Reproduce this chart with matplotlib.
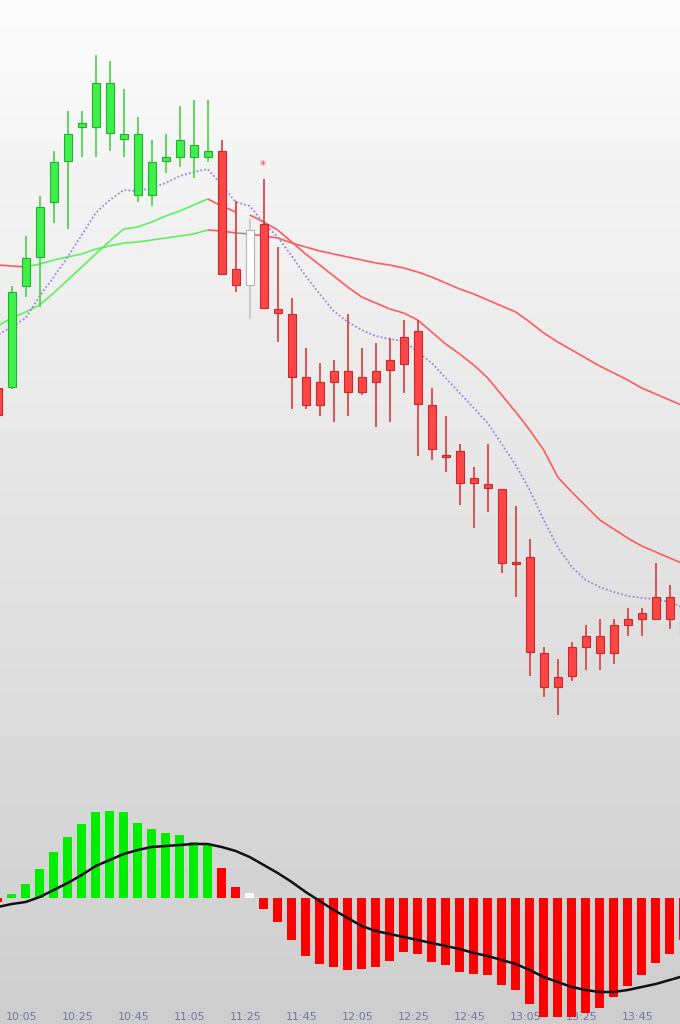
import numpy as np
import matplotlib
matplotlib.use("Agg")
import matplotlib.pyplot as plt
from matplotlib.collections import LineCollection
from matplotlib.transforms import blended_transform_factory

# candle data (price levels), one entry per bar
opens = [612, 613, 714, 743, 798, 839, 873, 873, 867, 861, 805, 805, 839, 843, 843, 843,
         849, 731, 770, 776, 691, 686, 623, 618, 629, 629, 623, 629, 640, 663, 669, 595,
         545, 549, 522, 516, 511, 438, 443, 347, 323, 324, 353, 364, 347, 375, 381, 381,
         403, 381]
highs = [615, 714, 764, 804, 849, 889, 889, 945, 939, 911, 883, 860, 866, 894, 900, 900,
         860, 799, 781, 821, 753, 702, 652, 637, 640, 686, 652, 657, 662, 680, 680, 612,
         584, 556, 533, 556, 511, 494, 461, 353, 341, 358, 375, 381, 381, 392, 392, 437,
         415, 385]
lows = [582, 611, 703, 693, 777, 771, 843, 843, 849, 843, 798, 794, 827, 833, 822, 838,
        725, 708, 681, 691, 658, 591, 591, 584, 578, 584, 605, 573, 578, 607, 544, 540,
        528, 495, 472, 488, 427, 403, 324, 303, 285, 319, 330, 330, 336, 364, 364, 381,
        371, 362]
closes = [585, 708, 742, 793, 838, 866, 877, 917, 917, 866, 866, 838, 843, 860, 855, 849,
          726, 715, 715, 692, 687, 623, 595, 595, 618, 608, 608, 618, 630, 636, 596, 551,
          543, 517, 517, 512, 437, 436, 348, 313, 313, 353, 364, 347, 375, 381, 387, 403,
          381, 365]
# trend state per bar: g = up, r = down, w = neutral
bar_state = "r" + "g" * 15 + "rr" + "w" + "r" * 31

ma_fast = [665, 673, 682, 704, 723, 743, 765, 787, 800, 810, 809, 812, 817, 824, 828, 831,
           815, 798, 794, 777, 763, 744, 724, 706, 689, 678, 670, 664, 661, 659, 648, 637,
           622, 607, 592, 577, 556, 535, 510, 480, 453, 433, 420, 413, 408, 404, 402, 401,
           398, 392]
ma_mid = [674, 682, 688, 695, 707, 720, 733, 746, 759, 771, 773, 778, 784, 789, 795, 801,
          794, 788, 785, 778, 770, 758, 746, 735, 724, 713, 703, 697, 691, 687, 680, 668,
          656, 646, 635, 622, 605, 588, 570, 550, 523, 508, 494, 480, 471, 462, 454, 448,
          442, 436]
ma_slow = [735, 734, 733, 736, 740, 743, 746, 751, 754, 757, 758, 760, 762, 764, 766, 770,
           769, 767, 766, 764, 762, 757, 753, 749, 746, 743, 740, 737, 735, 732, 728, 723,
           717, 711, 706, 700, 694, 688, 678, 667, 658, 650, 642, 634, 627, 620, 612, 606,
           600, 594]
mid_state = "g" * 16 + "rr" + "w" + "r" * 31
slow_state = "rrr" + "g" * 13 + "rr" + "w" + "r" * 31

macd_hist = [-0.4, 0.4, 1.4, 2.9, 4.6, 6.1, 7.4, 8.6, 8.7, 8.6, 7.5, 6.9, 6.5, 6.3, 5.6, 5.3,
             3.0, 1.1, 0.5, -1.1, -2.4, -4.2, -5.8, -6.6, -6.9, -7.2, -7.1, -6.9, -6.3, -5.4,
             -5.6, -6.4, -6.7, -7.4, -7.6, -7.7, -8.7, -9.2, -10.6, -11.9, -11.9, -11.9,
             -11.5, -11.0, -9.9, -8.8, -7.7, -6.5, -5.6, -4.2]
macd_signal = [-0.9, -0.6, -0.4, 0.1, 0.8, 1.5, 2.3, 3.2, 3.8, 4.4, 4.8, 5.1, 5.2, 5.3, 5.4,
               5.4, 5.1, 4.7, 4.1, 3.3, 2.5, 1.6, 0.6, -0.3, -1.2, -2.0, -2.8, -3.3, -3.6,
               -3.9, -4.2, -4.5, -4.8, -5.1, -5.5, -5.8, -6.2, -6.6, -7.2, -7.9, -8.4, -8.9,
               -9.2, -9.4, -9.4, -9.2, -8.9, -8.6, -8.2, -7.8]

tick_bars = [2, 6, 10, 14, 18, 22, 26, 30, 34, 38, 42, 46]
tick_labels = ["10:05", "10:25", "10:45", "11:05", "11:25", "11:45",
               "12:05", "12:25", "12:45", "13:05", "13:25", "13:45"]

signal_bar = 19  # bar marked with an asterisk

body_fill = {"g": "#3ef04a", "r": "#ff4646", "w": "#ffffff"}
body_edge = {"g": "#22b02e", "r": "#c82828", "w": "#b4b4b4"}
wick_col = {"g": "#44d444", "r": "#d83a3a", "w": "#c4c4c4"}
line_col = {"g": "#5cf05c", "r": "#ff5a5a"}
hist_col = {"g": "#00ee00", "r": "#ff0000", "w": "#ffffff"}

W, H = 680, 1024
fig = plt.figure(figsize=(W / 100, H / 100), dpi=100)

# background gradient
bg = fig.add_axes([0, 0, 1, 1])
grad = np.linspace(0.985, 0.805, 256).reshape(-1, 1)
bg.imshow(grad, cmap="gray", vmin=0, vmax=1, aspect="auto", extent=[0, 1, 0, 1])
bg.axis("off")

x = np.arange(len(opens))
xlim = ((0 + 2.3) / 14, (W + 2.3) / 14)

top_px = 785
ax = fig.add_axes([0, 1 - top_px / H, 1, top_px / H])
ax.set_xlim(xlim)
ax.set_ylim(1000 - top_px, 1000)
ax.axis("off")
ax.patch.set_alpha(0)


def seg_lines(vals, states, cmap):
    segs, cols = [], []
    for i in range(1, len(vals)):
        segs.append([(x[i - 1], vals[i - 1]), (x[i], vals[i])])
        cols.append(cmap[states[i]])
    return segs, cols


segs, cols = seg_lines(ma_slow, slow_state, {**line_col, "w": "#9a9a9a"})
ax.add_collection(LineCollection(segs, colors=cols, linewidths=1.2, zorder=2))
segs, cols = seg_lines(ma_mid, mid_state, {**line_col, "w": "#f8f8f8"})
ax.add_collection(LineCollection(segs, colors=cols, linewidths=1.2, zorder=2))
ax.plot(x, ma_fast, color="#9a86dc", lw=1.3, ls=(0, (1, 1.2)), zorder=2)

for i in range(len(opens)):
    s = bar_state[i]
    ax.vlines(x[i], lows[i], highs[i], color=wick_col[s], lw=1.2, zorder=3)
    lo, hi = min(opens[i], closes[i]), max(opens[i], closes[i])
    ax.bar(x[i], max(hi - lo, 1.5), bottom=lo, width=0.58, color=body_fill[s],
           edgecolor=body_edge[s], linewidth=0.8, zorder=4)

ax.text(x[signal_bar] - 0.1, highs[signal_bar] + 14, "*", color="#ff4a4a",
        fontsize=9, ha="center", va="center", zorder=5)

# MACD panel
mh_px = H - top_px
mx = fig.add_axes([0, 0, 1, mh_px / H])
mx.set_xlim(xlim)
mx.set_ylim((898 - H) / 10, (898 - top_px) / 10)
mx.axis("off")
mx.patch.set_alpha(0)
mx.bar(x, macd_hist, width=0.66, color=[hist_col[s] for s in bar_state], zorder=2)
mx.plot(x, macd_signal, color="#101010", lw=1.8, zorder=3)

# time labels along the bottom edge, behind the histogram
tr = blended_transform_factory(mx.transData, fig.transFigure)
for b, lab in zip(tick_bars, tick_labels):
    mx.text(b - 0.3, 1 - 1012 / H, lab, transform=tr, ha="center", va="top",
            fontsize=8, color="#7474a4", zorder=1)

fig.savefig("out.png", dpi=100)
